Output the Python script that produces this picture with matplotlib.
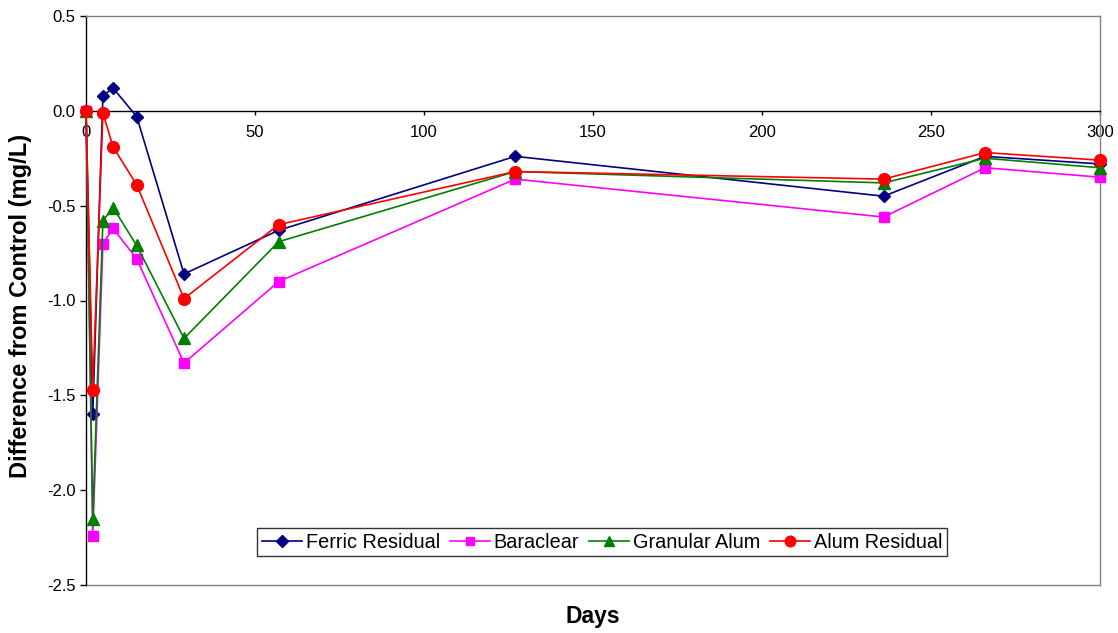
import matplotlib
matplotlib.use("Agg")
import matplotlib.pyplot as plt

plt.rcParams['font.family'] = ['Liberation Sans', 'DejaVu Sans']

days = [0, 2, 5, 8, 15, 29, 57, 127, 236, 266, 300]
ferric_residual = [0.0, -1.60, 0.08, 0.12, -0.03, -0.86, -0.63, -0.24, -0.45, -0.24, -0.28]
baraclear = [0.0, -2.24, -0.70, -0.62, -0.78, -1.33, -0.90, -0.36, -0.56, -0.30, -0.35]
granular_alum = [0.0, -2.15, -0.58, -0.51, -0.71, -1.20, -0.69, -0.32, -0.38, -0.25, -0.30]
alum_residual = [0.0, -1.47, -0.01, -0.19, -0.39, -0.99, -0.60, -0.32, -0.36, -0.22, -0.26]

series = [
    ("Ferric Residual", ferric_residual, "#000080", "D", 6.5),
    ("Baraclear", baraclear, "#FF00FF", "s", 7),
    ("Granular Alum", granular_alum, "#008000", "^", 8),
    ("Alum Residual", alum_residual, "#FF0000", "o", 8.5),
]

x_ticks = [0, 50, 100, 150, 200, 250, 300]
y_ticks = [0.5, 0.0, -0.5, -1.0, -1.5, -2.0, -2.5]

W, H = 1118, 633
fig = plt.figure(figsize=(W / 100, H / 100), dpi=100)
ax = fig.add_axes([86 / W, (H - 585) / H, (1100 - 86) / W, (585 - 16) / H])

for name, vals, color, marker, ms in series:
    ax.plot(days, vals, color=color, marker=marker, markersize=ms, linewidth=1.2,
            markeredgecolor=color, label=name, clip_on=False, zorder=3)

ax.set_xlim(0, 300)
ax.set_ylim(-2.5, 0.5)
ax.set_xticks(x_ticks)
ax.set_yticks(y_ticks)
ax.set_yticklabels([f"{v:.1f}" for v in y_ticks])

# Plot-area border in grey, value axis in black, category axis along y = 0
for side in ("top", "right"):
    ax.spines[side].set_color("#808080")
    ax.spines[side].set_linewidth(1.0)
ax.spines["left"].set_color("black")
ax.spines["left"].set_linewidth(1.0)
ax.spines["bottom"].set_position(("data", 0))
ax.spines["bottom"].set_color("black")
ax.spines["bottom"].set_linewidth(1.0)
ax.plot([0, 1], [0, 0], transform=ax.transAxes, color="#808080", linewidth=1.0,
        clip_on=False, zorder=1)

ax.tick_params(axis="x", direction="out", length=3, width=1, pad=7, labelsize=12)
ax.tick_params(axis="y", direction="out", length=4, width=1, pad=3.5, labelsize=12)

fig.text(593 / W, 1 - 617 / H, "Days", fontsize=16.5, fontweight="bold",
         ha="center", va="center")
fig.text(21 / W, 1 - 306 / H, "Difference from Control (mg/L)", fontsize=17,
         fontweight="bold", rotation=90, ha="center", va="center")

leg = fig.legend(loc="center", bbox_to_anchor=(602 / W, 1 - 542 / H), ncol=4,
                 frameon=True, fancybox=False, shadow=False, fontsize=14.3,
                 handlelength=2.0, handletextpad=0.2, columnspacing=0.5,
                 borderpad=0.25, borderaxespad=0, markerscale=0.9)
leg.get_frame().set_edgecolor("black")
leg.get_frame().set_linewidth(1.0)

fig.savefig("out.png", dpi=100)
